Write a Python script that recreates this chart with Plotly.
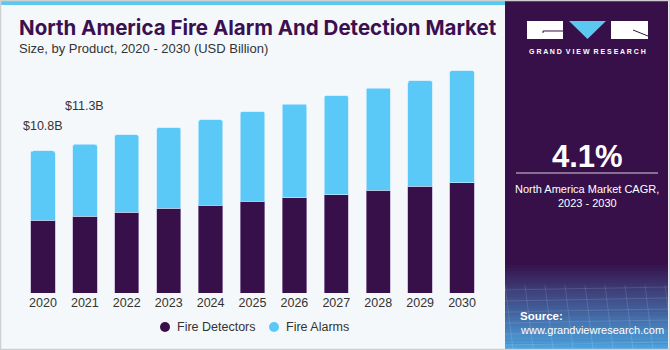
import plotly.graph_objects as go

# Market size by product, USD billion
years = ["2020", "2021", "2022", "2023", "2024", "2025", "2026", "2027", "2028", "2029", "2030"]
fire_detectors = [5.55, 5.83, 6.16, 6.44, 6.69, 6.98, 7.24, 7.49, 7.82, 8.10, 8.37]
fire_alarms = [5.25, 5.47, 5.86, 6.13, 6.47, 6.82, 7.13, 7.51, 7.77, 8.04, 8.53]
labelled_years = ["2020", "2021"]
label_texts = ["$10.8B", "$11.3B"]
label_shifts = [16, 29]
series_names = ["Fire Detectors", "Fire Alarms"]

DARK = "#37104A"
LIGHT_BLUE = "#5BC9F7"
BG = "#F4F8FB"
FONT = "Liberation Sans"

W, H = 670, 350
L, R, T, B = 22, 483, 60, 293  # plot area in pixels


def px(x):
    return (x - L) / (R - L)


def py(y):
    return (B - y) / (B - T)


fig = go.Figure()
fig.add_trace(go.Bar(x=years, y=fire_detectors, name=series_names[0],
                     marker=dict(color=DARK, line=dict(color="rgba(180,160,200,0.6)", width=1))))
fig.add_trace(go.Bar(x=years, y=fire_alarms, name=series_names[1],
                     marker=dict(color=LIGHT_BLUE, line=dict(color="rgba(200,235,255,0.7)", width=1))))

totals = [d + a for d, a in zip(fire_detectors, fire_alarms)]
annotations = []
for yr, txt, sh in zip(labelled_years, label_texts, label_shifts):
    i = years.index(yr)
    annotations.append(dict(x=i, y=totals[i], xref="x", yref="y", text=txt, showarrow=False,
                            yanchor="bottom", yshift=sh, font=dict(size=12.5, color="#333333", family=FONT)))

# Title block
annotations += [
    dict(x=px(17), y=py(28), xref="paper", yref="paper", xanchor="left", yanchor="middle",
         text="<b>North America Fire Alarm And Detection Market</b>", showarrow=False,
         font=dict(size=20.5, color="#3A1050", family="Inter", weight=900)),
    dict(x=px(17), y=py(49), xref="paper", yref="paper", xanchor="left", yanchor="middle",
         text="Size, by Product, 2020 - 2030 (USD Billion)", showarrow=False,
         font=dict(size=13, color="#333333", family=FONT)),
]

# Side panel texts
annotations += [
    dict(x=px(587), y=py(51), xref="paper", yref="paper", xanchor="center", yanchor="middle",
         text="<b>G R A N D  V I E W  R E S E A R C H</b>", showarrow=False,
         font=dict(size=7, color="white", family=FONT)),
    dict(x=px(587), y=py(156), xref="paper", yref="paper", xanchor="center", yanchor="middle",
         text="<b>4.1%</b>", showarrow=False, font=dict(size=31, color="white", family=FONT)),
    dict(x=px(587), y=py(189), xref="paper", yref="paper", xanchor="center", yanchor="middle",
         text="North America Market CAGR,", showarrow=False, font=dict(size=11, color="white", family=FONT)),
    dict(x=px(587), y=py(203), xref="paper", yref="paper", xanchor="center", yanchor="middle",
         text="2023 - 2030", showarrow=False, font=dict(size=11, color="white", family=FONT)),
    dict(x=px(518), y=py(316), xref="paper", yref="paper", xanchor="left", yanchor="middle",
         text="<b>Source:</b>", showarrow=False, font=dict(size=11.5, color="white", family=FONT)),
    dict(x=px(518), y=py(330), xref="paper", yref="paper", xanchor="left", yanchor="middle",
         text="www.grandviewresearch.com", showarrow=False, font=dict(size=11, color="white", family=FONT)),
]


def rect(x0, y0, x1, y1, fill, line=None, layer="above"):
    return dict(type="rect", xref="paper", yref="paper", x0=px(x0), x1=px(x1), y0=py(y0), y1=py(y1),
                fillcolor=fill, line=dict(width=0) if line is None else line, layer=layer)


shapes = [
    rect(0, 0, 505, 5, "#5BC8F0"),
    rect(505, 0, 668, 350, "#37104A"),
]

# Legend with round swatches
for name, col, lx in zip(series_names, [DARK, LIGHT_BLUE], [165, 274]):
    shapes.append(dict(type="circle", xref="paper", yref="paper",
                       x0=px(lx - 5), x1=px(lx + 5), y0=py(322), y1=py(332),
                       fillcolor=col, line=dict(width=0)))
    annotations.append(dict(x=px(lx + 10), y=py(327), xref="paper", yref="paper",
                            xanchor="left", yanchor="middle", text=name, showarrow=False,
                            font=dict(size=12.5, color="#333333", family=FONT)))

# Gradient footer of the side panel
top_c = (55, 16, 74)
bot_c = (76, 162, 222)
y_start, y_end, n = 262, 349, 30
for k in range(n):
    t = k / (n - 1)
    c = tuple(int(top_c[j] + (bot_c[j] - top_c[j]) * t) for j in range(3))
    y0 = y_start + (y_end - y_start) * k / n
    y1 = y_start + (y_end - y_start) * (k + 1) / n + 0.5
    shapes.append(rect(505, y0, 668, y1, "rgb(%d,%d,%d)" % c))
# faint mesh lines in the footer
for k in range(9):
    xx = 505 + k * 20
    shapes.append(dict(type="line", xref="paper", yref="paper", x0=px(xx), x1=px(xx + 8),
                       y0=py(285), y1=py(349), line=dict(color="rgba(255,255,255,0.12)", width=1)))
for k in range(6):
    yy = 290 + k * 11
    shapes.append(dict(type="line", xref="paper", yref="paper", x0=px(505), x1=px(668),
                       y0=py(yy), y1=py(yy - 3), line=dict(color="rgba(255,255,255,0.12)", width=1)))

# Logo marks
shapes += [
    rect(527, 21, 563, 39, "white"),
    dict(type="path", xref="paper", yref="paper",
         path="M %f %f L %f %f L %f %f" % (px(543), py(33), px(543), py(31), px(563), py(31)),
         line=dict(color="#37104A", width=1)),
    dict(type="path", xref="paper", yref="paper",
         path="M %f %f L %f %f L %f %f Z" % (px(569), py(21), px(606), py(21), px(587.5), py(39)),
         fillcolor="#5BC8F0", line=dict(width=0)),
    rect(611, 21, 648, 39, "white"),
    dict(type="line", xref="paper", yref="paper", x0=px(633), y0=py(30), x1=px(648), y1=py(36),
         line=dict(color="#37104A", width=1)),
    # CAGR divider
    dict(type="line", xref="paper", yref="paper", x0=px(516), x1=px(658), y0=py(173), y1=py(173),
         line=dict(color="rgba(255,255,255,0.8)", width=1)),
    # outer frame
    rect(0.5, 0.5, 669.5, 349.5, "rgba(0,0,0,0)", line=dict(color="#CFCFCF", width=1.5)),
]

fig.update_layout(
    width=W, height=H,
    margin=dict(l=L, r=W - R, t=T, b=H - B, pad=0),
    paper_bgcolor=BG, plot_bgcolor=BG,
    barmode="stack", bargap=0.42, barcornerradius=2,
    font=dict(family=FONT, color="#333333", size=12),
    xaxis=dict(type="category", range=[-0.5, 10.5], showgrid=False, showline=False, ticks="",
               tickfont=dict(size=12.5, color="#333333", family=FONT), fixedrange=True),
    yaxis=dict(range=[0, 17.72], visible=False, fixedrange=True),
    annotations=annotations,
    shapes=shapes,
    showlegend=False,
)

fig.write_html("out.html", config={"displayModeBar": False})
